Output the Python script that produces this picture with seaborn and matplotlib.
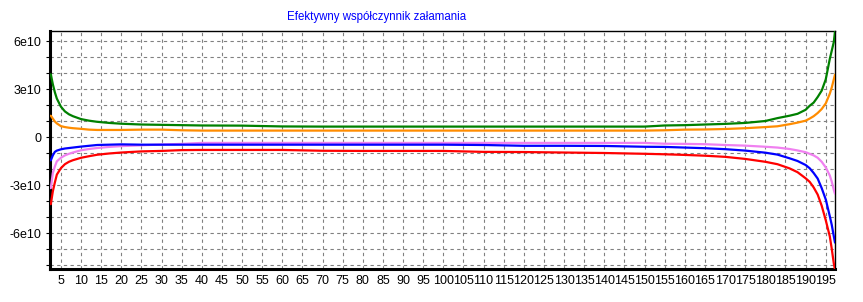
import numpy as np
import pandas as pd
import matplotlib
matplotlib.use('Agg')
import matplotlib.pyplot as plt
from matplotlib.ticker import MultipleLocator, FuncFormatter
import seaborn as sns

# positions along the structure (x axis)
x = [2.5, 3, 3.5, 4, 5, 6, 7, 8, 10, 12, 14, 17, 20, 25, 30, 35, 40, 50, 60, 70,
     80, 90, 100, 110, 120, 130, 140, 150, 155, 160, 165, 170, 175, 180, 183, 186,
     188, 190, 191, 192, 193, 194, 195, 196, 196.5, 197, 197.3]

# values in units of 1e10
green = [3.92, 3.3, 2.8, 2.4, 1.9, 1.6, 1.42, 1.3, 1.12, 1.02, 0.95, 0.88, 0.83,
         0.78, 0.76, 0.74, 0.72, 0.71, 0.66, 0.65, 0.65, 0.65, 0.65, 0.65, 0.65,
         0.65, 0.65, 0.65, 0.72, 0.74, 0.78, 0.82, 0.88, 1.0, 1.18, 1.33, 1.45,
         1.7, 1.95, 2.15, 2.5, 2.9, 3.6, 4.87, 5.4, 5.93, 6.6]
orange = [1.33, 1.15, 0.97, 0.85, 0.68, 0.62, 0.58, 0.55, 0.51, 0.46, 0.44, 0.44,
          0.44, 0.46, 0.46, 0.42, 0.40, 0.40, 0.40, 0.40, 0.40, 0.40, 0.40, 0.40,
          0.40, 0.40, 0.40, 0.40, 0.42, 0.46, 0.47, 0.50, 0.55, 0.62, 0.67, 0.80,
          0.90, 1.02, 1.15, 1.30, 1.50, 1.75, 2.10, 2.70, 3.10, 3.60, 3.90]
violet = [-3.2, -2.25, -1.85, -1.52, -1.3, -1.15, -1.05, -0.97, -0.83, -0.75, -0.69,
          -0.62, -0.57, -0.52, -0.47, -0.43, -0.37, -0.37, -0.37, -0.37, -0.37,
          -0.37, -0.37, -0.37, -0.37, -0.37, -0.37, -0.37, -0.42, -0.43, -0.45,
          -0.50, -0.54, -0.61, -0.66, -0.75, -0.84, -0.95, -1.05, -1.15, -1.30,
          -1.55, -1.90, -2.40, -2.80, -3.30, -3.55]
blue = [-1.46, -1.15, -0.93, -0.85, -0.77, -0.72, -0.69, -0.66, -0.60, -0.55, -0.50,
        -0.48, -0.46, -0.48, -0.48, -0.48, -0.48, -0.48, -0.48, -0.48, -0.48, -0.48,
        -0.48, -0.50, -0.55, -0.55, -0.56, -0.61, -0.62, -0.66, -0.70, -0.76, -0.85,
        -0.98, -1.10, -1.33, -1.50, -1.75, -1.95, -2.25, -2.60, -3.20, -3.90, -4.94,
        -5.50, -6.20, -6.60]
red = [-4.2, -3.4, -2.85, -2.35, -1.95, -1.70, -1.55, -1.45, -1.30, -1.20, -1.11,
       -1.03, -0.97, -0.90, -0.87, -0.82, -0.81, -0.81, -0.81, -0.86, -0.87, -0.87,
       -0.87, -0.93, -0.94, -0.97, -1.00, -1.05, -1.08, -1.12, -1.17, -1.24, -1.37,
       -1.55, -1.70, -1.96, -2.20, -2.58, -2.80, -3.15, -3.60, -4.30, -5.20, -6.20,
       -7.00, -7.90, -8.30]

series = {'green': green, 'orange': orange, 'violet': violet, 'blue': blue, 'red': red}
colors = {'green': '#008000', 'orange': '#FF8C00', 'violet': '#F080F0',
          'blue': '#0000FF', 'red': '#FF0000'}

df = pd.concat([pd.DataFrame({'x': x, 'n': np.array(v) * 1e10, 'curve': k})
                for k, v in series.items()], ignore_index=True)

sns.set_style('white')
plt.rcParams['font.family'] = ['Liberation Sans', 'DejaVu Sans']

fig = plt.figure(figsize=(8.63, 3.02), dpi=100)
ax = fig.add_axes([50 / 863, 33 / 302, 785 / 863, 238 / 302])

sns.lineplot(data=df, x='x', y='n', hue='curve', palette=colors, linewidth=1.6,
             legend=False, ax=ax, zorder=3)

ax.set_xlim(2.3, 197.3)
ax.set_ylim(-8.25e10, 6.625e10)
ax.xaxis.set_major_locator(MultipleLocator(5))
ax.yaxis.set_major_locator(MultipleLocator(3e10))
ax.yaxis.set_minor_locator(MultipleLocator(1e10))


def yfmt(v, pos):
    if abs(v) < 1:
        return '0'
    return '%de10' % round(v / 1e10)


ax.yaxis.set_major_formatter(FuncFormatter(yfmt))
ax.xaxis.set_major_formatter(FuncFormatter(lambda v, p: '%d' % v))

ax.grid(True, which='both', axis='y', color='#808080', linestyle=(0, (3, 3)), linewidth=0.8)
ax.grid(True, which='major', axis='x', color='#808080', linestyle=(0, (3, 3)), linewidth=0.8)

ax.tick_params(axis='both', which='both', labelsize=9, colors='black', length=3,
               width=0.8, left=True, bottom=True)
ax.tick_params(axis='x', pad=4, length=0)
ax.tick_params(axis='y', pad=3)

for side in ['left', 'bottom']:
    ax.spines[side].set_linewidth(2.2)
    ax.spines[side].set_color('black')
for side in ['top', 'right']:
    ax.spines[side].set_linewidth(1.0)
    ax.spines[side].set_color('black')

ax.set_xlabel('')
ax.set_ylabel('')

fig.text(377 / 863, 1 - 17 / 302, 'Efektywny współczynnik załamania', color='#0000FF',
         fontsize=8.3, ha='center', va='center')

fig.savefig('out.png', dpi=100)
